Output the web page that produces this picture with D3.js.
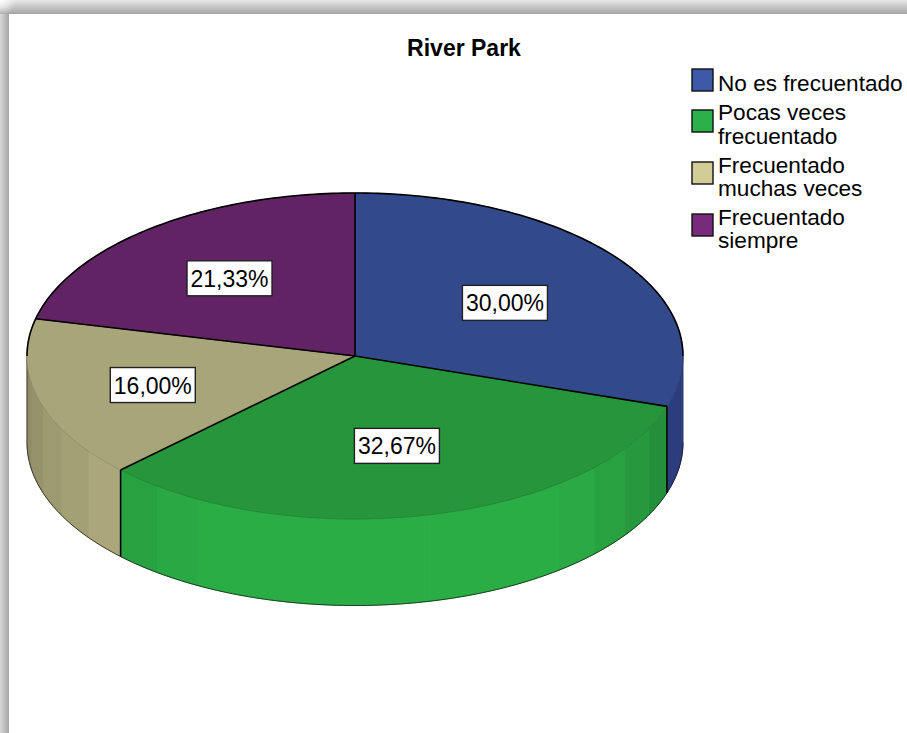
<!DOCTYPE html>
<html><head><meta charset="utf-8">
<script src="https://cdn.jsdelivr.net/npm/d3@7/dist/d3.min.js"></script>
<style>html,body{margin:0;padding:0;background:#fff;overflow:hidden}svg{display:block}text{font-family:"Liberation Sans",Arial,sans-serif;fill:#000}</style>
</head><body><svg id="c" width="907" height="733"></svg>
<script>
const title = "River Park";
const categories = ["No es frecuentado","Pocas veces frecuentado","Frecuentado muchas veces","Frecuentado siempre"];
const legendLines = [["No es frecuentado"],["Pocas veces","frecuentado"],["Frecuentado","muchas veces"],["Frecuentado","siempre"]];
const values = [30.00,32.67,16.00,21.33];
const valueLabels = ["30,00%","32,67%","16,00%","21,33%"];
const topColors = ["#32498b","#26953b","#a9a57a","#612363"];
const sideColors = ["#2c3d7d","#2bad46","#aeaa7d","#4e1c50"];
const legendColors = ["#3d59a8","#2bb04a","#d2cd97","#782a7d"];
const labelRadii = [0.565,0.56,0.64,0.616];
const legendSwatchY = [69,110,162,214];
const legendFirstBaseline = [90.5,120,172.5,224.5];

const W=907,H=733,cx=355,cy=356,rx=328,ry=163,depth=86.5,band=8.2*Math.PI/180;
const svg=d3.select("#c");
const defs=svg.append("defs");
function grad(id,x2,y2,stops){const g=defs.append("linearGradient").attr("id",id).attr("x1",0).attr("y1",0).attr("x2",x2).attr("y2",y2);
  stops.forEach(s=>g.append("stop").attr("offset",s[0]).attr("stop-color",s[1]));}
grad("gl",1,0,[[0,"#d8d8d8"],[1,"#a6a6a6"]]);
grad("gt",0,1,[[0,"#e8e8e8"],[1,"#a4a4a4"]]);
const rg=defs.append("radialGradient").attr("id","gc").attr("cx",0).attr("cy",0).attr("r",1);
rg.append("stop").attr("offset",0).attr("stop-color","#fff");
rg.append("stop").attr("offset",1).attr("stop-color","#fff").attr("stop-opacity",0);
svg.append("rect").attr("width",W).attr("height",H).attr("fill","#fff");
svg.append("rect").attr("x",0).attr("y",0).attr("width",9).attr("height",H).attr("fill","url(#gl)");
svg.append("rect").attr("x",0).attr("y",0).attr("width",W).attr("height",14).attr("fill","url(#gt)");
svg.append("rect").attr("x",0).attr("y",0).attr("width",16).attr("height",16).attr("fill","url(#gc)");

const px=d3.scaleLinear().domain([-1,1]).range([cx-rx,cx+rx]);
const py=d3.scaleLinear().domain([-1,1]).range([cy-ry,cy+ry]);
const X=a=>px(Math.sin(a)), Y=a=>py(-Math.cos(a));
const pie=d3.pie().sort(null).value(d=>d);
const slices=pie(values);
const line=d3.line();

function shade(col,a,i){
  const f=Math.cos(a-175*Math.PI/180);
  const c=d3.rgb(col);
  const m=Math.max(0.8,Math.min(1,i===2 ? 0.82+0.18*f/0.64 : 0.80+0.2*(f-0.39)/0.46));
  return d3.rgb(c.r*m,c.g*m,c.b*m).formatHex();
}
const sides=svg.append("g");
slices.forEach((s,i)=>{
  const a0=Math.max(s.startAngle,Math.PI/2), a1=Math.min(s.endAngle,Math.PI*1.5);
  if(a1<=a0) return;
  const n=Math.max(1,Math.round((a1-a0)/band));
  for(let k=0;k<n;k++){
    const b0=a0+(a1-a0)*k/n,b1=a0+(a1-a0)*(k+1)/n;
    const arc=d3.range(0,13).map(j=>b0+(b1-b0)*j/12);
    const pts=arc.map(a=>[X(a),Y(a)]).concat(arc.slice().reverse().map(a=>[X(a),Y(a)+depth]));
    const col=i===0?sideColors[0]:shade(sideColors[i],(b0+b1)/2,i);
    sides.append("path").attr("d",line(pts)+"Z").attr("fill",col).attr("stroke",col).attr("stroke-width",1);
  }
});
const frontA=d3.range(0,181).map(j=>Math.PI/2+Math.PI*j/180);
svg.append("path").attr("d",line(frontA.map(a=>[X(a),Y(a)+depth]))).attr("fill","none").attr("stroke","#111").attr("stroke-width",0.7);
svg.append("path").attr("d",line([[X(Math.PI*1.5),Y(Math.PI*1.5)],[X(Math.PI*1.5),Y(Math.PI*1.5)+depth]])).attr("stroke","#333").attr("stroke-width",0.8);

const arcGen=d3.arc().innerRadius(0).outerRadius(1);
const topFace=svg.append("g").attr("transform",`translate(${cx},${cy}) scale(${rx},${ry})`);
topFace.selectAll("path").data(slices).join("path").attr("d",arcGen)
  .attr("fill",(d,i)=>topColors[i]).attr("stroke",(d,i)=>d3.color(topColors[i]).darker(0.5)).attr("stroke-width",0.7).attr("vector-effect","non-scaling-stroke");
const backA=d3.range(0,181).map(j=>-Math.PI/2+Math.PI*j/180);
svg.append("path").attr("d",line(backA.map(a=>[X(a),Y(a)]))).attr("fill","none").attr("stroke","#000").attr("stroke-width",1.6);
slices.forEach(s=>{
  const a=s.startAngle;
  svg.append("path").attr("d",line([[cx,cy],[X(a),Y(a)]])).attr("stroke","#000").attr("stroke-width",1.6);
  if(Math.cos(a)<0) svg.append("path").attr("d",line([[X(a),Y(a)],[X(a),Y(a)+depth]])).attr("stroke","#000").attr("stroke-width",1.6);
});

const labelW=85,labelH=35;
slices.forEach((s,i)=>{
  const m=(s.startAngle+s.endAngle)/2,r=labelRadii[i];
  const x=px(r*Math.sin(m)),y=py(-r*Math.cos(m))+1;
  const g=svg.append("g").attr("transform",`translate(${x},${y})`);
  g.append("rect").attr("x",-labelW/2).attr("y",-labelH/2).attr("width",labelW).attr("height",labelH).attr("fill","#fff").attr("stroke","#222").attr("stroke-width",1.4);
  g.append("text").attr("text-anchor","middle").attr("y",8.5).attr("font-size",23).text(valueLabels[i]);
});

svg.append("text").attr("x",464).attr("y",55.5).attr("text-anchor","middle").attr("font-size",23).attr("font-weight","bold").text(title);

categories.forEach((c,i)=>{
  svg.append("rect").attr("x",692).attr("y",legendSwatchY[i]).attr("width",21).attr("height",22).attr("fill",legendColors[i]).attr("stroke","#111").attr("stroke-width",1.4);
  const t=svg.append("text").attr("x",718).attr("y",legendFirstBaseline[i]).attr("font-size",22.6);
  legendLines[i].forEach((l,j)=>t.append("tspan").attr("x",718).attr("dy",j?23.5:0).text(l));
});
</script></body></html>
